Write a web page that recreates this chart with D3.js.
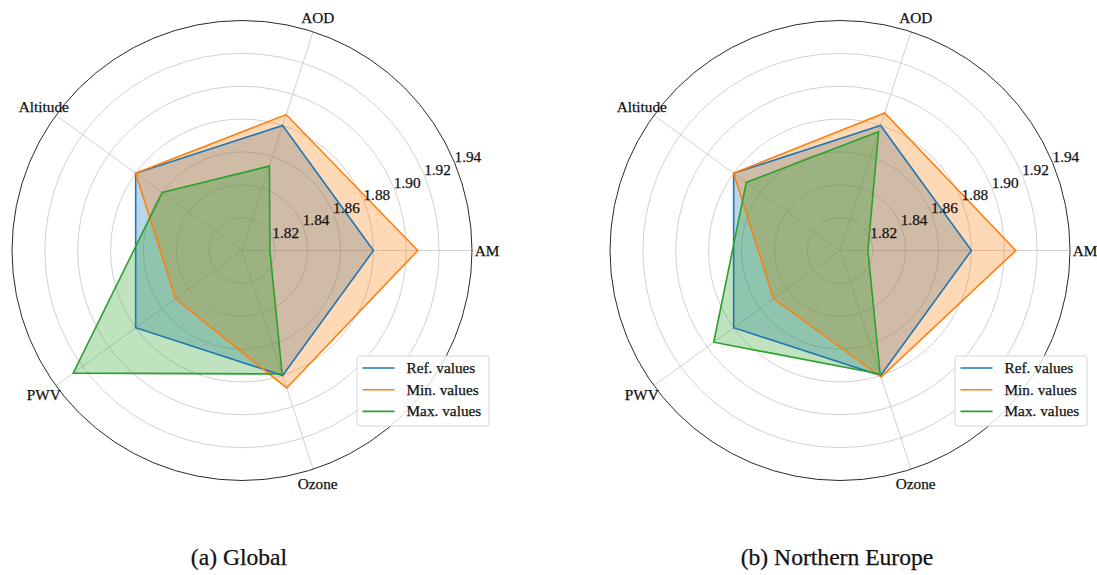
<!DOCTYPE html>
<html>
<head>
<meta charset="utf-8">
<script src="https://cdn.jsdelivr.net/npm/d3@7"></script>
<style>
  html, body { margin: 0; padding: 0; background: #ffffff; }
  svg { display: block; }
  svg text { font-family: Liberation Serif, DejaVu Serif, serif; }
</style>
</head>
<body>
<svg id="chart" width="1097" height="575"></svg>
<script>
// ---- data ----
const categories = ["AM", "AOD", "Altitude", "PWV", "Ozone"];
const tickValues = [1.82, 1.84, 1.86, 1.88, 1.90, 1.92, 1.94];
const seriesNames = ["Ref. values", "Min. values", "Max. values"];

const globalRef = [1.880, 1.880, 1.880, 1.880, 1.880];
const globalMin = [1.907, 1.887, 1.880, 1.850, 1.888];
const globalMax = [1.817, 1.854, 1.860, 1.927, 1.879];

const europeRef = [1.880, 1.880, 1.880, 1.880, 1.880];
const europeMin = [1.907, 1.888, 1.880, 1.850, 1.881];
const europeMax = [1.817, 1.876, 1.8705, 1.895, 1.879];

const captions = ["(a) Global", "(b) Northern Europe"];

// ---- drawing ----
const TXT = "#111111";
const colors = ["#1f77b4", "#ff7f0e", "#2ca02c"];
const svg = d3.select("#chart");
const R = 230;
const rScale = d3.scaleLinear().domain([1.80, 1.94]).range([0, R]);
const angle = d3.scalePoint().domain(categories.concat(["_end"])).range([0, 2 * Math.PI]);

function pt(cat, v) {
  const a = angle(cat);
  const r = rScale(v);
  return [r * Math.cos(a), -r * Math.sin(a)];
}

function styleText(sel, size) {
  return sel.attr("fill", TXT).attr("stroke", TXT).attr("stroke-width", 0.25)
    .attr("font-size", size);
}

function drawRadar(cx, cy, seriesList, caption) {
  const g = svg.append("g").attr("transform", `translate(${cx},${cy})`);

  g.selectAll("circle.grid").data(tickValues.slice(0, -1)).enter()
    .append("circle").attr("r", d => rScale(d))
    .attr("fill", "none").attr("stroke", "#cccccc").attr("stroke-width", 0.9);

  g.selectAll("line.spoke").data(categories).enter()
    .append("line")
    .attr("x1", 0).attr("y1", 0)
    .attr("x2", d => pt(d, 1.94)[0]).attr("y2", d => pt(d, 1.94)[1])
    .attr("stroke", "#cccccc").attr("stroke-width", 0.9);

  const line = d3.line().curve(d3.curveLinearClosed);
  seriesList.forEach((vals, i) => {
    const pts = categories.map((c, j) => pt(c, vals[j]));
    g.append("path").attr("d", line(pts))
      .attr("fill", colors[i]).attr("fill-opacity", 0.3)
      .attr("stroke", "none");
  });
  seriesList.forEach((vals, i) => {
    const pts = categories.map((c, j) => pt(c, vals[j]));
    g.append("path").attr("d", line(pts))
      .attr("fill", "none").attr("stroke", colors[i]).attr("stroke-width", 1.6)
      .attr("stroke-linejoin", "miter");
  });

  g.append("circle").attr("r", rScale(1.94))
    .attr("fill", "none").attr("stroke", "#2a2a2a").attr("stroke-width", 1);

  const la = 22.5 * Math.PI / 180;
  styleText(g.selectAll("text.rtick").data(tickValues).enter()
    .append("text")
    .attr("x", d => rScale(d) * Math.cos(la))
    .attr("y", d => -rScale(d) * Math.sin(la))
    .attr("text-anchor", "start"), 15.3)
    .text(d => d.toFixed(2));

  styleText(g.selectAll("text.cat").data(categories).enter()
    .append("text")
    .attr("x", d => 245 * Math.cos(angle(d)))
    .attr("y", d => -245 * Math.sin(angle(d)))
    .attr("text-anchor", "middle")
    .attr("dominant-baseline", "central"), 15.3)
    .text(d => d);

  const lg = g.append("g").attr("transform", "translate(115,105.5)");
  lg.append("rect").attr("x", 0).attr("y", 0).attr("width", 132).attr("height", 70)
    .attr("rx", 3).attr("fill", "#ffffff").attr("fill-opacity", 0.8)
    .attr("stroke", "#d6d6d6").attr("stroke-width", 1);
  seriesNames.forEach((name, i) => {
    const yy = 12 + i * 21.7;
    lg.append("line").attr("x1", 5.5).attr("x2", 37.5).attr("y1", yy).attr("y2", yy)
      .attr("stroke", colors[i]).attr("stroke-width", 1.6);
    styleText(lg.append("text").attr("x", 49.5).attr("y", yy + 5), 15.3).text(name);
  });

  styleText(svg.append("text").attr("x", cx - 3).attr("y", 565)
    .attr("text-anchor", "middle"), 23.6).text(caption);
}

drawRadar(242, 250.5, [globalRef, globalMin, globalMax], captions[0]);
drawRadar(840, 250.5, [europeRef, europeMin, europeMax], captions[1]);
</script>
</body>
</html>
